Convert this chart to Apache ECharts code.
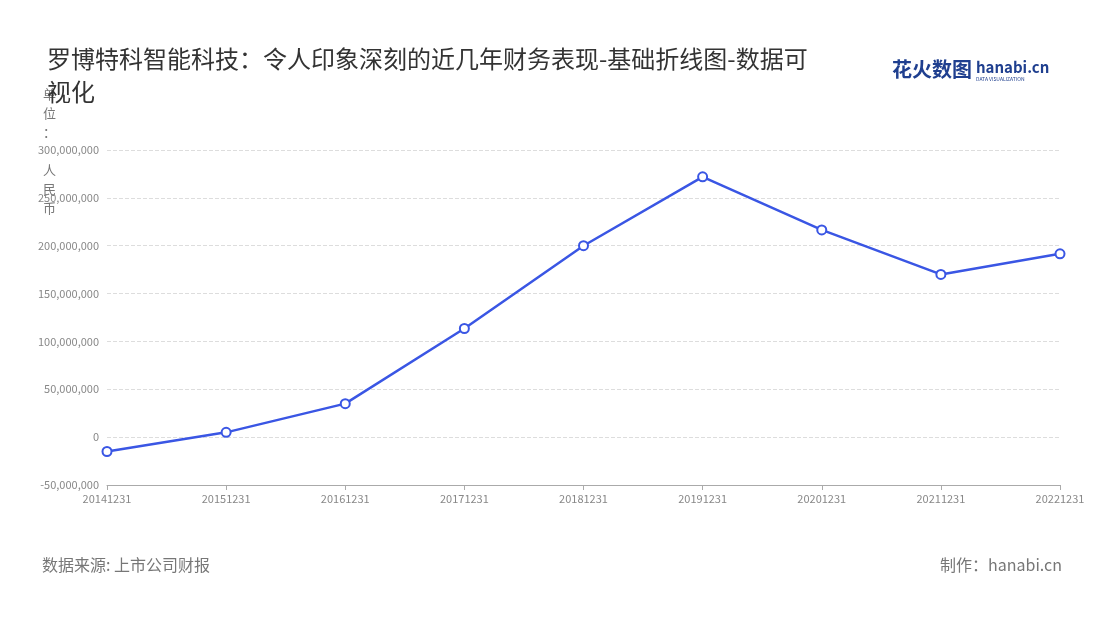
<!DOCTYPE html>
<html><head><meta charset="utf-8">
<script src="https://cdn.jsdelivr.net/npm/echarts@6/dist/echarts.min.js"></script>
<style>html,body{margin:0;padding:0;background:#fff}#c{width:1100px;height:620px}</style>
</head><body><div id="c"></div>
<script>
const categories = ['20141231','20151231','20161231','20171231','20181231','20191231','20201231','20211231','20221231'];
const values = [-15000000, 5000000, 35000000, 113500000, 200000000, 272000000, 216500000, 170000000, 191500000];
const yTicks = { min: -50000000, max: 300000000, interval: 50000000 };
const font = '"Noto Sans CJK SC","Noto Sans",sans-serif';
const chart = echarts.init(document.getElementById('c'));
chart.setOption({
  backgroundColor: '#fff',
  textStyle: { fontFamily: font },
  title: {
    text: '罗博特科智能科技：令人印象深刻的近几年财务表现-基础折线图-数据可\n视化',
    left: 42, top: 37,
    textStyle: { fontSize: 24, fontWeight: 'normal', color: '#333', lineHeight: 33, fontFamily: font }
  },
  graphic: [
    { type: 'text', left: 892, top: 59, style: { text: '花火数图', fontSize: 20, fontWeight: 'bold', fill: '#1f3f8f', fontFamily: font } },
    { type: 'text', left: 976, top: 60, style: { text: 'hanabi.cn', fontSize: 15, fontWeight: 'bold', fill: '#1f3f8f', fontFamily: font } },
    { type: 'text', left: 976, top: 77, style: { text: 'DATA VISUALIZATION', fontSize: 5, fill: '#1f3f8f', fontFamily: font } },
    { type: 'text', left: 43, top: 85, style: { text: '单\n位\n：\n\n人\n民\n币', fontSize: 13, lineHeight: 19, fill: '#777', fontFamily: font } },
    { type: 'text', left: 42, top: 557, style: { text: '数据来源: 上市公司财报', fontSize: 16, fill: '#777', fontFamily: font } },
    { type: 'text', right: 38, top: 557, style: { text: '制作：hanabi.cn', fontSize: 16, fill: '#777', fontFamily: font } }
  ],
  grid: { left: 107, right: 40, top: 150, bottom: 135 },
  xAxis: {
    type: 'category', data: categories, boundaryGap: false,
    axisLine: { onZero: false, lineStyle: { color: '#aaa' } },
    axisTick: { show: true, lineStyle: { color: '#aaa' } },
    axisLabel: { color: '#888', fontSize: 11, interval: 0 }
  },
  yAxis: {
    type: 'value', min: yTicks.min, max: yTicks.max, interval: yTicks.interval,
    axisLine: { show: false }, axisTick: { show: false },
    axisLabel: { color: '#888', fontSize: 11, formatter: v => v.toLocaleString('en-US') },
    splitLine: { lineStyle: { type: 'dashed', color: '#ddd' } }
  },
  series: [{
    type: 'line', data: values, symbol: 'circle', symbolSize: 9,
    lineStyle: { color: '#3a56e4', width: 2.5 },
    itemStyle: { color: '#fff', borderColor: '#3a56e4', borderWidth: 2 }
  }]
});
</script></body></html>
